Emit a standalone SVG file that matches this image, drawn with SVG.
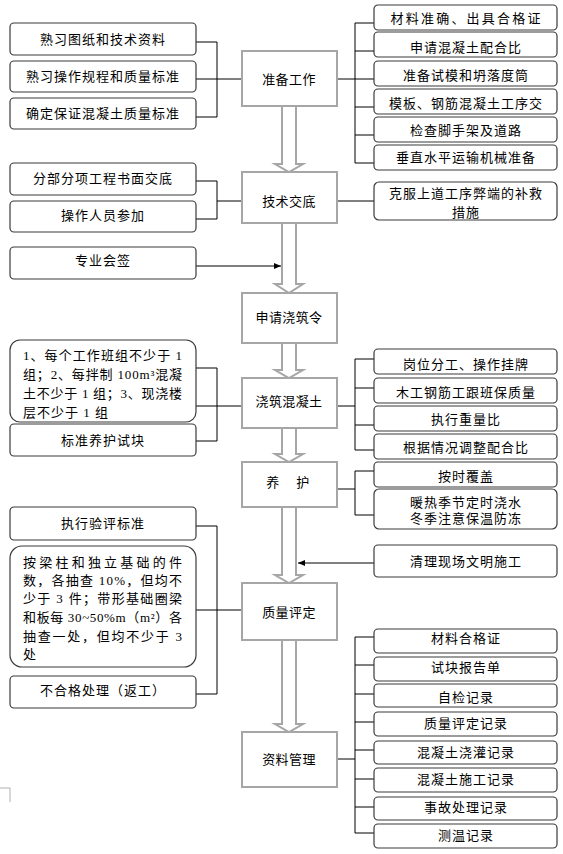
<svg xmlns="http://www.w3.org/2000/svg" width="563" height="854" viewBox="0 0 563 854">
<style>
text{font-family:"Liberation Serif","Noto Sans CJK SC",serif;font-size:13px;fill:#000}
.c{text-anchor:middle;letter-spacing:1px}
.m{text-anchor:middle;letter-spacing:0.4px}
.side{fill:#fff;stroke:#3a3a3a;stroke-width:1.2}
.main{fill:#fff;stroke:#a6a6a6;stroke-width:2}
.harrow{fill:#fff;stroke:#a6a6a6;stroke-width:2}
.ln{fill:none;stroke:#000;stroke-width:1}
</style>
<defs>
<marker id="ah" markerWidth="8" markerHeight="8" refX="7" refY="4" orient="auto" markerUnits="userSpaceOnUse">
<path d="M0,1 L7,4 L0,7 Z" fill="#000"/>
</marker>
</defs>
<rect width="563" height="854" fill="#fff"/>

<g id="connectors">
<!-- hollow flow arrows -->
<polygon class="harrow" points="282,106 296,106 296,164 303,164 289,172 275,164 282,164"/>
<polygon class="harrow" points="282,223 296,223 296,284 303,284 289,293 275,284 282,284"/>
<polygon class="harrow" points="282,343 296,343 296,370 303,370 289,378 275,370 282,370"/>
<polygon class="harrow" points="282,428 296,428 296,454 303,454 289,462 275,454 282,454"/>
<polygon class="harrow" points="282,507 296,507 296,575 303,575 289,583 275,575 282,575"/>
<polygon class="harrow" points="282,640 296,640 296,724 303,724 289,732 275,724 282,724"/>
<!-- group 1 left -->
<path class="ln" d="M196,42H217M196,79H217M196,117H217M217,42V117M217,79H242"/>
<!-- group 1 right -->
<path class="ln" d="M355,23H374M355,51H374M355,107H374M355,135H374M355,163H374M355,23V163M337,79H374"/>
<!-- group 2 -->
<path class="ln" d="M196,181H217M196,219H217M217,181V219M217,201H242"/>
<path class="ln" d="M337,201H374"/>
<path class="ln" d="M196,266H281" marker-end="url(#ah)"/>
<!-- group 3 -->
<path class="ln" d="M196,368H217M196,406H217M196,441H217M217,368V441M217,406H242"/>
<path class="ln" d="M355,359H374M355,388H374M355,425H374M355,450H374M355,359V450M337,406H355"/>
<!-- group 4 -->
<path class="ln" d="M355,471H374M355,515H374M355,471V515M337,489H355"/>
<path class="ln" d="M374,563H298" marker-end="url(#ah)"/>
<!-- group 5 -->
<path class="ln" d="M196,526H217M196,610H217M196,694H217M217,526V694M217,610H242"/>
<!-- group 6 -->
<path class="ln" d="M355,637H374M355,665H374M355,694H374M355,722H374M355,750H374M355,779H374M355,807H374M355,833H374M355,637V833M337,759H355"/>
</g>

<path d="M0,788H10V802" fill="none" stroke="#b0b0b0" stroke-width="1"/>

<!-- main nodes -->
<g id="n-zhunbei"><rect class="main" x="242" y="51" width="95" height="55"/><text class="m" x="289" y="84">准备工作</text></g>
<g id="n-jishu"><rect class="main" x="242" y="172" width="95" height="51"/><text class="m" x="289" y="206">技术交底</text></g>
<g id="n-shenqing"><rect class="main" x="242" y="293" width="95" height="50"/><text class="m" x="289" y="322">申请浇筑令</text></g>
<g id="n-jiaozhu"><rect class="main" x="242" y="378" width="95" height="50"/><text class="m" x="289" y="406">浇筑混凝土</text></g>
<g id="n-yanghu"><rect class="main" x="242" y="462" width="95" height="45"/><text class="m" y="487"><tspan x="273">养</tspan><tspan x="303">护</tspan></text></g>
<g id="n-zhiliang"><rect class="main" x="242" y="583" width="95" height="57"/><text class="m" x="289" y="617">质量评定</text></g>
<g id="n-ziliao"><rect class="main" x="242" y="732" width="95" height="55"/><text class="m" x="289" y="764">资料管理</text></g>

<!-- left side nodes -->
<g id="l1"><rect class="side" x="10" y="23" width="186" height="32" rx="4"/><text class="c" x="103" y="44">熟习图纸和技术资料</text></g>
<g id="l2"><rect class="side" x="10" y="61" width="186" height="31" rx="4"/><text class="c" x="103" y="81">熟习操作规程和质量标准</text></g>
<g id="l3"><rect class="side" x="10" y="98" width="186" height="31" rx="4"/><text class="c" x="103" y="118">确定保证混凝土质量标准</text></g>
<g id="l4"><rect class="side" x="10" y="163" width="186" height="32" rx="4"/><text class="c" x="103" y="183">分部分项工程书面交底</text></g>
<g id="l5"><rect class="side" x="10" y="201" width="186" height="31" rx="4"/><text class="c" x="103" y="220">操作人员参加</text></g>
<g id="l6"><rect class="side" x="10" y="247" width="186" height="32" rx="4"/><text class="c" x="103" y="265">专业会签</text></g>
<g id="l7"><rect class="side" x="10" y="340" width="186" height="82" rx="10"/>
<text x="23" y="360" textLength="159" lengthAdjust="spacing">1、每个工作班组不少于 1</text>
<text x="23" y="379" textLength="159" lengthAdjust="spacing">组；2、每拌制 100m³混凝</text>
<text x="23" y="398" textLength="159" lengthAdjust="spacing">土不少于 1 组；3、现浇楼</text>
<text x="23" y="417" style="letter-spacing:1px">层不少于 1 组</text>
</g>
<g id="l8"><rect class="side" x="10" y="424" width="186" height="32" rx="4"/><text class="c" x="103" y="445">标准养护试块</text></g>
<g id="l9"><rect class="side" x="10" y="507" width="186" height="33" rx="4"/><text class="c" x="103" y="528">执行验评标准</text></g>
<g id="l10"><rect class="side" x="10" y="546" width="186" height="121" rx="12"/>
<text x="23" y="567" textLength="159" lengthAdjust="spacing">按梁柱和独立基础的件</text>
<text x="23" y="585" textLength="159" lengthAdjust="spacing">数，各抽查 10%，但均不</text>
<text x="23" y="603" textLength="159" lengthAdjust="spacing">少于 3 件；带形基础圈梁</text>
<text x="23" y="622" textLength="159" lengthAdjust="spacing">和板每 30~50%m（m²）各</text>
<text x="23" y="641" textLength="159" lengthAdjust="spacing">抽查一处，但均不少于 3</text>
<text x="23" y="659">处</text>
</g>
<g id="l11"><rect class="side" x="10" y="676" width="186" height="32" rx="4"/><text class="c" x="103" y="695">不合格处理（返工）</text></g>

<!-- right side nodes -->
<g id="r1"><rect class="side" x="374" y="5" width="183" height="25" rx="4"/><text class="c" x="466" y="23" textLength="151" lengthAdjust="spacing">材料准确、出具合格证</text></g>
<g id="r2"><rect class="side" x="374" y="32" width="183" height="25" rx="4"/><text class="c" x="466" y="52">申请混凝土配合比</text></g>
<g id="r3"><rect class="side" x="374" y="61" width="183" height="25" rx="4"/><text class="c" x="466" y="80">准备试模和坍落度筒</text></g>
<g id="r4"><rect class="side" x="374" y="89" width="183" height="25" rx="4"/><text class="c" x="466" y="108">模板、钢筋混凝土工序交</text></g>
<g id="r5"><rect class="side" x="374" y="117" width="183" height="25" rx="4"/><text class="c" x="466" y="135">检查脚手架及道路</text></g>
<g id="r6"><rect class="side" x="374" y="145" width="183" height="25" rx="4"/><text class="c" x="466" y="162">垂直水平运输机械准备</text></g>
<g id="r7"><rect class="side" x="374" y="182" width="183" height="38" rx="5"/><text class="c" x="466" y="198">克服上道工序弊端的补救</text><text class="c" x="466" y="217">措施</text></g>
<g id="r8"><rect class="side" x="374" y="349" width="183" height="25" rx="4"/><text class="c" x="466" y="369">岗位分工、操作挂牌</text></g>
<g id="r9"><rect class="side" x="374" y="378" width="183" height="25" rx="4"/><text class="c" x="466" y="397">木工钢筋工跟班保质量</text></g>
<g id="r10"><rect class="side" x="374" y="406" width="183" height="25" rx="4"/><text class="c" x="466" y="424">执行重量比</text></g>
<g id="r11"><rect class="side" x="374" y="434" width="183" height="25" rx="4"/><text class="c" x="466" y="452">根据情况调整配合比</text></g>
<g id="r12"><rect class="side" x="374" y="462" width="183" height="25" rx="4"/><text class="c" x="466" y="481">按时覆盖</text></g>
<g id="r13"><rect class="side" x="374" y="489" width="183" height="40" rx="5"/><text class="c" x="466" y="507">暖热季节定时浇水</text><text class="c" x="466" y="523">冬季注意保温防冻</text></g>
<g id="r14"><rect class="side" x="374" y="545" width="183" height="32" rx="4"/><text class="c" x="466" y="566">清理现场文明施工</text></g>
<g id="r15"><rect class="side" x="374" y="629" width="183" height="24" rx="4"/><text class="c" x="466" y="643">材料合格证</text></g>
<g id="r16"><rect class="side" x="374" y="657" width="183" height="24" rx="4"/><text class="c" x="466" y="672">试块报告单</text></g>
<g id="r17"><rect class="side" x="374" y="684" width="183" height="23" rx="4"/><text class="c" x="466" y="702">自检记录</text></g>
<g id="r18"><rect class="side" x="374" y="712" width="183" height="24" rx="4"/><text class="c" x="466" y="728">质量评定记录</text></g>
<g id="r19"><rect class="side" x="374" y="741" width="183" height="23" rx="4"/><text class="c" x="466" y="757">混凝土浇灌记录</text></g>
<g id="r20"><rect class="side" x="374" y="768" width="183" height="24" rx="4"/><text class="c" x="466" y="784">混凝土施工记录</text></g>
<g id="r21"><rect class="side" x="374" y="797" width="183" height="23" rx="4"/><text class="c" x="466" y="812">事故处理记录</text></g>
<g id="r22"><rect class="side" x="374" y="824" width="183" height="24" rx="4"/><text class="c" x="466" y="840">测温记录</text></g>
</svg>
